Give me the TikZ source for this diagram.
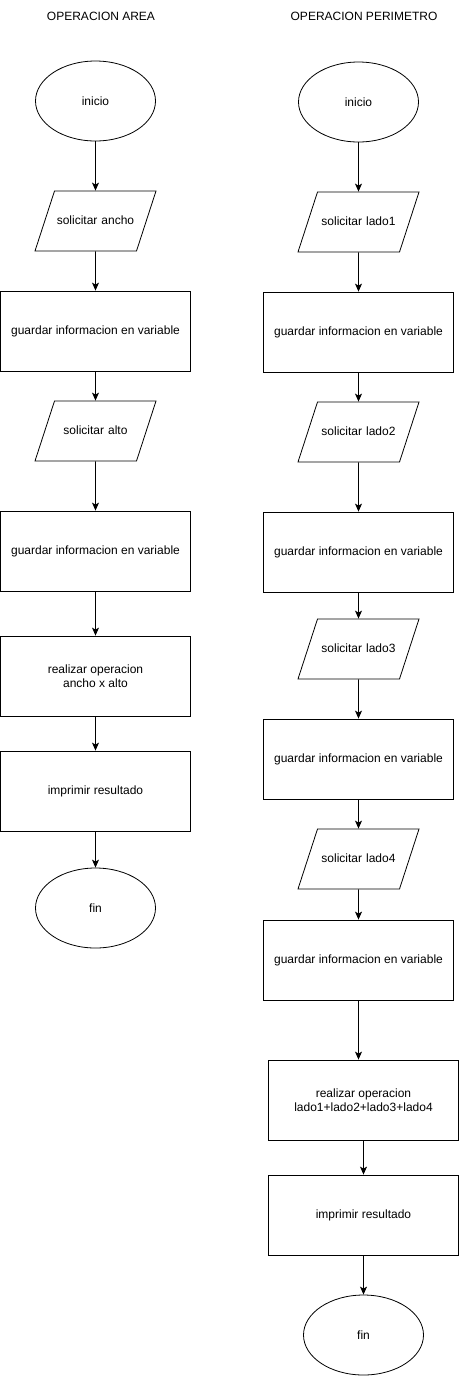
\documentclass[tikz,border=0pt]{standalone}
\usepackage{fontspec}
\setmainfont{Liberation Sans}
\usetikzlibrary{shapes.geometric,arrows.meta}
\begin{document}
\begin{tikzpicture}[x=1pt,y=-1pt,line width=0.8pt,
 every node/.style={font=\fontsize{12}{14}\selectfont},
 term/.style={draw,ellipse,minimum width=120pt,minimum height=80pt,inner sep=0pt},
 io/.style={draw,trapezium,trapezium left angle=72,trapezium right angle=108,text width=82pt,align=center,text height=9pt,text depth=3pt,inner ysep=24pt,inner xsep=0pt},
 proc/.style={draw,rectangle,minimum width=190pt,minimum height=80pt,align=center,inner sep=0pt},
 flow/.style={-{Stealth[length=8pt,width=7pt,inset=2pt]}}]
 \useasboundingbox (0,0) rectangle (459,1376);
 % area
 \node (tarea) at (101,16) {OPERACION AREA};
 \node[term] (ini1) at (95.5,101) {inicio};
 \node[io] (ancho) at (95.5,221) {solicitar ancho};
 \node[proc] (gua1) at (95.5,331) {guardar informacion en variable};
 \node[io] (alto) at (95.5,431) {solicitar alto};
 \node[proc] (gua2) at (95.5,551) {guardar informacion en variable};
 \node[proc] (opa) at (95.5,676) {realizar operacion\\ancho x alto};
 \node[proc] (imp1) at (95.5,791) {imprimir resultado};
 \node[term] (fin1) at (95.5,908) {fin};
 \draw[flow] (ini1) -- (ancho);
 \draw[flow] (ancho) -- (gua1);
 \draw[flow] (gua1) -- (alto);
 \draw[flow] (alto) -- (gua2);
 \draw[flow] (gua2) -- (opa);
 \draw[flow] (opa) -- (imp1);
 \draw[flow] (imp1) -- (fin1);
 % perimetro
 \node (tper) at (364,16) {OPERACION PERIMETRO};
 \node[term] (ini2) at (358.5,102) {inicio};
 \node[io] (lado1) at (358.5,222) {solicitar lado1};
 \node[proc] (gua3) at (358.5,332) {guardar informacion en variable};
 \node[io] (lado2) at (358.5,432) {solicitar lado2};
 \node[proc] (gua4) at (358.5,552) {guardar informacion en variable};
 \node[io] (lado3) at (358.5,649) {solicitar lado3};
 \node[proc] (gua5) at (358.5,759) {guardar informacion en variable};
 \node[io] (lado4) at (358.5,859) {solicitar lado4};
 \node[proc] (gua6) at (358.5,960) {guardar informacion en variable};
 \node[proc] (opp) at (363.5,1100) {realizar operacion\\lado1+lado2+lado3+lado4};
 \node[proc] (imp2) at (363.5,1215) {imprimir resultado};
 \node[term] (fin2) at (363.5,1335) {fin};
 \draw[flow] (ini2) -- (lado1);
 \draw[flow] (lado1) -- (gua3);
 \draw[flow] (gua3) -- (lado2);
 \draw[flow] (lado2) -- (gua4);
 \draw[flow] (gua4) -- (lado3);
 \draw[flow] (lado3) -- (gua5);
 \draw[flow] (gua5) -- (lado4);
 \draw[flow] (lado4) -- (gua6);
 \draw[flow] (gua6) -- (gua6 |- opp.north);
 \draw[flow] (opp) -- (imp2);
 \draw[flow] (imp2) -- (fin2);
\end{tikzpicture}
\end{document}
